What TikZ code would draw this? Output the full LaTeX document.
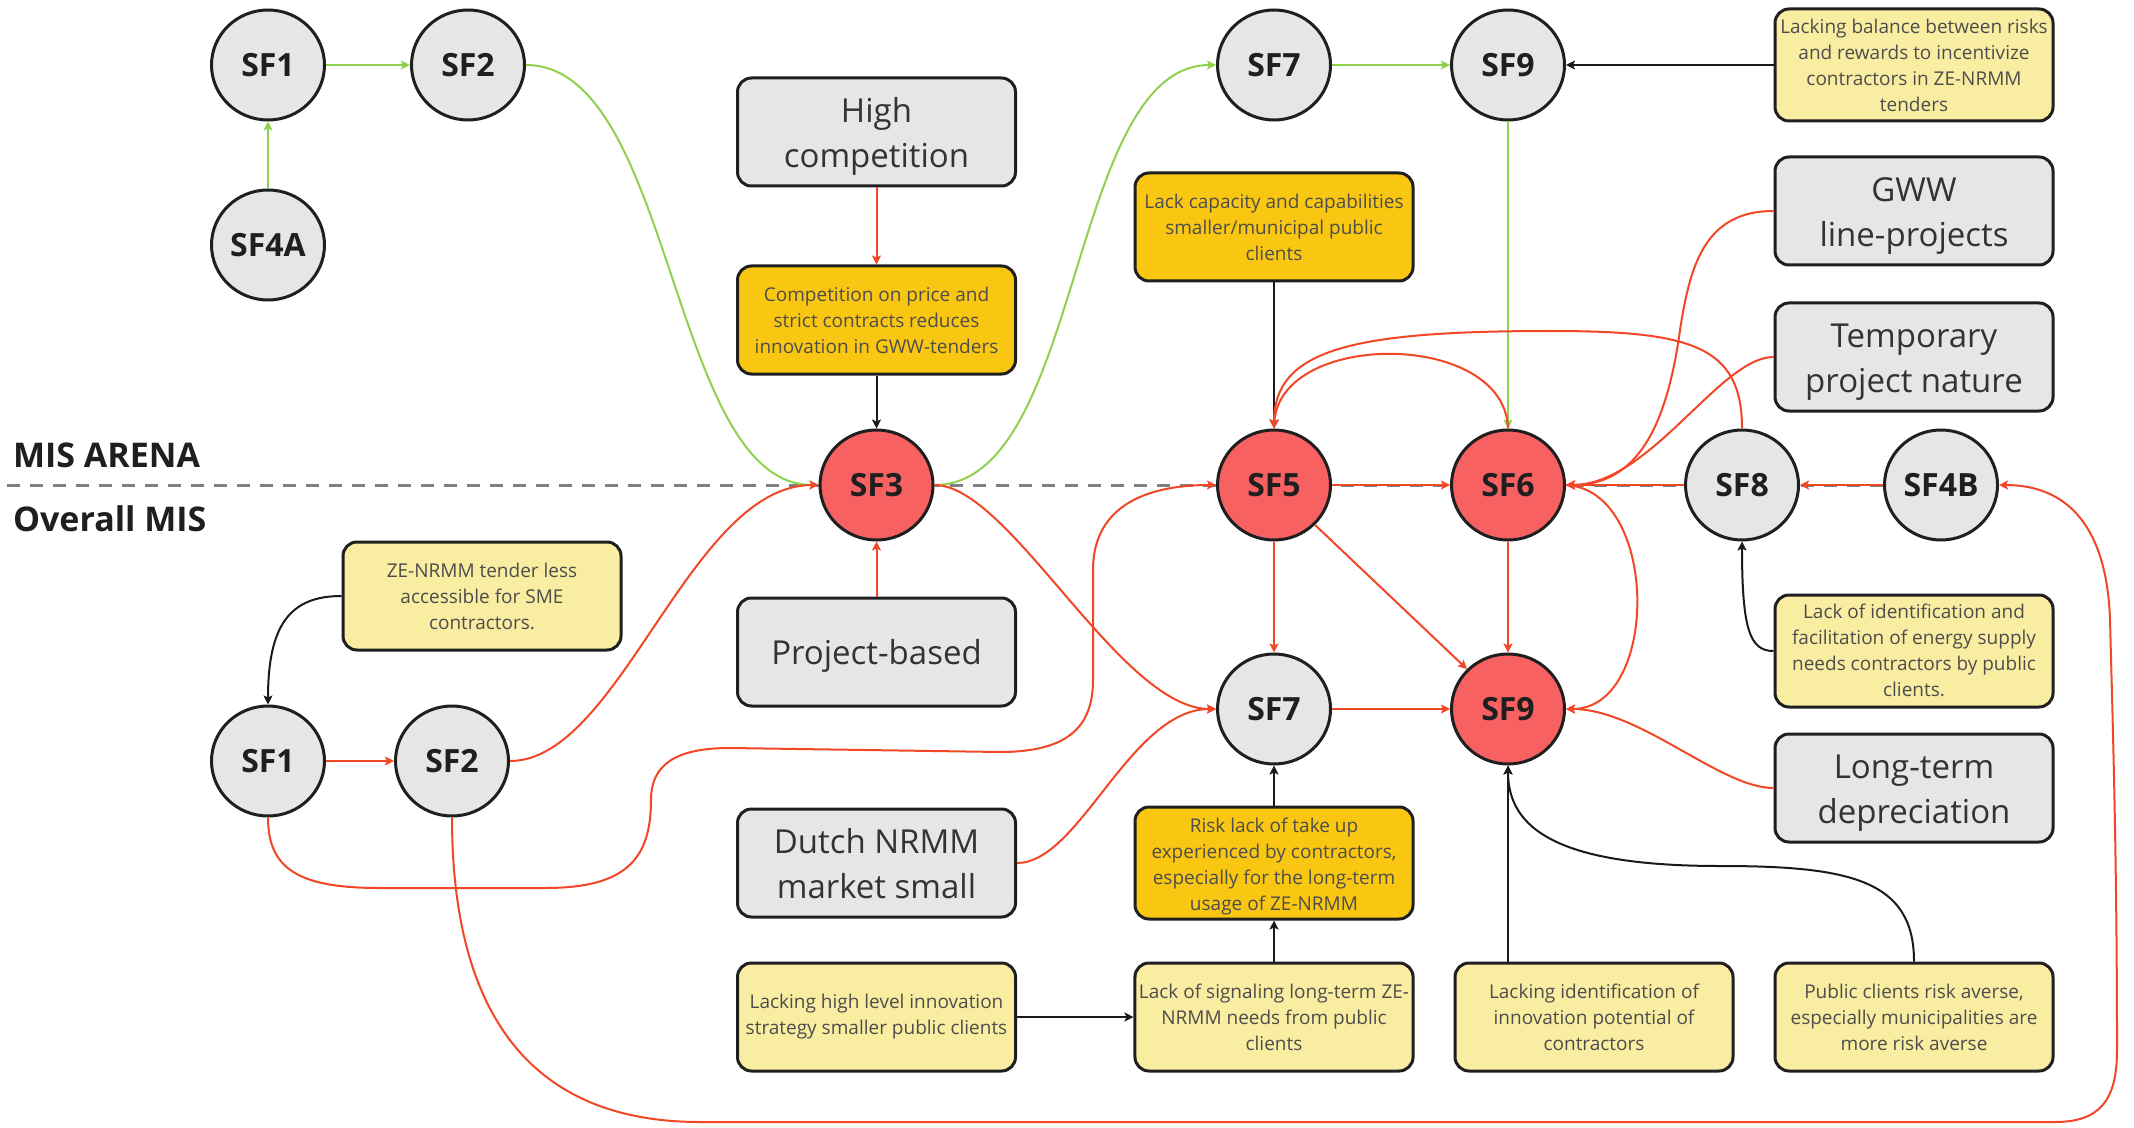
\documentclass[tikz,border=0pt]{standalone}
\usepackage{fontspec}
\setmainfont{Open Sans}
\usetikzlibrary{shapes.geometric,arrows.meta}
\definecolor{nodegrey}{HTML}{E6E6E6}
\definecolor{nodered}{HTML}{F76161}
\definecolor{boxorange}{HTML}{F9C712}
\definecolor{boxyellow}{HTML}{F9EDA1}
\definecolor{linered}{HTML}{F24726}
\definecolor{linegreen}{HTML}{8FD14F}
\definecolor{lineblack}{HTML}{1A1A1A}
\definecolor{dashgrey}{HTML}{808080}
\definecolor{bordercol}{HTML}{1F1F1F}
\definecolor{bigtext}{HTML}{333333}
\definecolor{smalltext}{HTML}{4D4D4D}
\newcommand\lowtext[2]{\raisebox{-#1}[\height][\depth]{\begin{tabular}{@{}c@{}}#2\end{tabular}}}
\begin{document}
\begin{tikzpicture}[x=0.5pt,y=-0.5pt,
  sf/.style={ellipse,draw=bordercol,line width=1.5pt,minimum width=56.5pt,minimum height=55pt,inner sep=0pt,font=\bfseries\fontsize{16}{18}\selectfont,text=bordercol},
  sfgrey/.style={sf,fill=nodegrey},
  sfred/.style={sf,fill=nodered},
  boxbase/.style={rectangle,rounded corners=7pt,draw=bordercol,line width=1.5pt,minimum width=139pt,minimum height=54pt,inner sep=2pt,align=center},
  bigbox/.style={boxbase,fill=nodegrey,font=\fontsize{16.5}{22.5}\selectfont,text=bigtext},
  ybox/.style={boxbase,fill=boxyellow,font=\fontsize{9.5}{13}\selectfont,text=smalltext},
  obox/.style={boxbase,fill=boxorange,font=\fontsize{9.5}{13}\selectfont,text=smalltext},
  conn/.style={line width=1pt,-{Stealth[length=4.5pt,width=4.5pt,inset=1pt]}},
  rconn/.style={conn,draw=linered},
  gconn/.style={conn,draw=linegreen},
  bconn/.style={conn,draw=lineblack},
  arealabel/.style={anchor=west,font=\bfseries\fontsize{17}{20}\selectfont,text=bordercol}
]
\useasboundingbox (0,0) rectangle (2134,1128);
\fill[white] (0,0) rectangle (2134,1128);

% dashed separator
\coordinate (dashL) at (7,485);
\coordinate (dashR) at (1941,485);
\draw[dashgrey,line width=1.5pt,dash pattern=on 6.5pt off 5pt] (dashL) -- (dashR);

% area labels
\node[arealabel] (arena) at (6,455) {MIS ARENA};
\node[arealabel] (overall) at (6,519) {Overall MIS};

% circle nodes
\node[sfgrey] (SF1t) at (268,65) {SF1};
\node[sfgrey] (SF2t) at (468,65) {SF2};
\node[sfgrey] (SF4A) at (268,245) {SF4A};
\node[sfred]  (SF3) at (876.5,485) {SF3};
\node[sfgrey] (SF1b) at (268,761) {SF1};
\node[sfgrey] (SF2b) at (452,761) {SF2};
\node[sfgrey] (SF7t) at (1274,65) {SF7};
\node[sfgrey] (SF9t) at (1508,65) {SF9};
\node[sfred]  (SF5) at (1274,485) {SF5};
\node[sfred]  (SF6) at (1508,485) {SF6};
\node[sfgrey] (SF8) at (1742,485) {SF8};
\node[sfgrey] (SF4B) at (1941,485) {SF4B};
\node[sfgrey] (SF7b) at (1274,709) {SF7};
\node[sfred]  (SF9b) at (1508,709) {SF9};

% boxes
\node[bigbox] (HighComp) at (876.5,132) {\lowtext{2pt}{High\\competition}};
\node[obox] (CompPrice) at (876.5,320) {Competition on price and\\strict contracts reduces\\innovation in GWW-tenders};
\node[bigbox] (ProjBased) at (876.5,652) {\lowtext{1.5pt}{Project-based}};
\node[bigbox] (Dutch) at (876.5,863) {\lowtext{2pt}{Dutch NRMM\\market small}};
\node[ybox] (LackHigh) at (876.5,1017) {Lacking high level innovation\\strategy smaller public clients};
\node[ybox] (ZENRMM) at (482,596) {ZE-NRMM tender less\\accessible for SME\\contractors.};
\node[ybox] (LackBal) at (1914,65) {\lowtext{1pt}{Lacking balance between risks\\and rewards to incentivize\\contractors in ZE-NRMM\\tenders}};
\node[bigbox] (GWW) at (1914,211) {\lowtext{2pt}{GWW\\line-projects}};
\node[bigbox] (Temp) at (1914,357) {\lowtext{2pt}{Temporary\\project nature}};
\node[obox] (LackCap) at (1274,227) {Lack capacity and capabilities\\smaller/municipal public\\clients};
\node[ybox] (LackIdent) at (1914,651) {\lowtext{0.5pt}{Lack of identification and\\facilitation of energy supply\\needs contractors by public\\clients.}};
\node[bigbox] (LongTerm) at (1914,788) {\lowtext{2pt}{Long-term\\depreciation}};
\node[obox] (RiskLack) at (1274,863) {\lowtext{1.5pt}{Risk lack of take up\\experienced by contractors,\\especially for the long-term\\usage of ZE-NRMM}};
\node[ybox] (LackSig) at (1274,1017) {Lack of signaling long-term ZE-\\NRMM needs from public\\clients};
\node[ybox] (LackInnov) at (1594,1017) {Lacking identification of\\innovation potential of\\contractors};
\node[ybox] (Public) at (1914,1017) {Public clients risk averse,\\especially municipalities are\\more risk averse};

% green connectors
\draw[gconn] (SF1t) -- (SF2t);
\draw[gconn] (SF4A) -- (SF1t);
\draw[gconn] (SF2t.east) .. controls (674,65) and (670,485) .. (SF3.west);
\draw[gconn] (SF3.east) .. controls (1083,485) and (1068,65) .. (SF7t.west);
\draw[gconn] (SF7t) -- (SF9t);
\draw[gconn] (SF9t) -- (SF6);

% black connectors
\draw[bconn] (LackBal.west) -- (SF9t.east);
\draw[bconn] (CompPrice.south) -- (SF3.north);
\draw[bconn] (LackCap.south) -- (SF5.north);
\draw[bconn] (ZENRMM.west) .. controls (290,596) and (268,625) .. (SF1b.north);
\draw[bconn] (LackIdent.west) .. controls (1750,651) and (1742,630) .. (SF8.south);
\draw[bconn] (RiskLack.north) -- (SF7b.south);
\draw[bconn] (LackSig.north) -- (RiskLack.south);
\draw[bconn] (LackHigh.east) -- (LackSig.west);
\draw[bconn] (SF9b.south |- LackInnov.north) -- (SF9b.south);
\draw[bconn] (Public.north) .. controls (1914,880) and (1850,866) .. (1720,866) .. controls (1560,866) and (1508,830) .. (SF9b.south);

% red connectors
\draw[rconn] (HighComp.south) -- (CompPrice.north);
\draw[rconn] (ProjBased.north) -- (SF3.south);
\draw[rconn] (SF1b) -- (SF2b);
\draw[rconn] (SF2b.east) .. controls (620,761) and (690,485) .. (SF3.west);
\draw[rconn] (SF1b.south) .. controls (268,870) and (300,888) .. (380,888) -- (545,888) .. controls (625,888) and (651,860) .. (651,800) .. controls (651,765) and (675,748) .. (730,748) -- (1000,752) .. controls (1070,752) and (1093,725) .. (1093,680) -- (1093,570) .. controls (1093,510) and (1140,485) .. (SF5.west);
\draw[rconn] (SF2b.south) .. controls (452,1000) and (520,1122) .. (700,1122) -- (2055,1122) .. controls (2100,1122) and (2117,1100) .. (2117,1050) .. controls (2117,850) and (2112,700) .. (2110,620) .. controls (2107,530) and (2070,485) .. (SF4B.east);
\draw[rconn] (SF3.east) .. controls (1010,485) and (1120,709) .. (SF7b.west);
\draw[rconn] (Dutch.east) .. controls (1080,863) and (1130,709) .. (SF7b.west);
\draw[rconn] (SF5) -- (SF6);
\draw[rconn] (SF5) -- (SF7b);
\draw[rconn] (SF5.south east) -- (SF9b.north west);
\draw[rconn] (SF6) -- (SF9b);
\draw[rconn] (SF7b) -- (SF9b);
\draw[rconn] (SF6.east) .. controls (1660,490) and (1660,709) .. (SF9b.east);
\draw[rconn] (LongTerm.west) .. controls (1720,788) and (1640,709) .. (SF9b.east);
\draw[rconn] (SF8) -- (SF6);
\draw[rconn] (SF4B) -- (SF8);
\draw[rconn] (GWW.west) .. controls (1705,211) and (1690,265) .. (1680,330) .. controls (1665,440) and (1630,485) .. (SF6.east);
\draw[rconn] (Temp.west) .. controls (1720,357) and (1650,485) .. (SF6.east);
\draw[rconn] (SF8.north) .. controls (1742,345) and (1690,331) .. (1550,331) .. controls (1350,331) and (1274,350) .. (SF5.north);
\draw[rconn] (SF6.north) .. controls (1505,330) and (1280,330) .. (SF5.north);
\end{tikzpicture}
\end{document}
